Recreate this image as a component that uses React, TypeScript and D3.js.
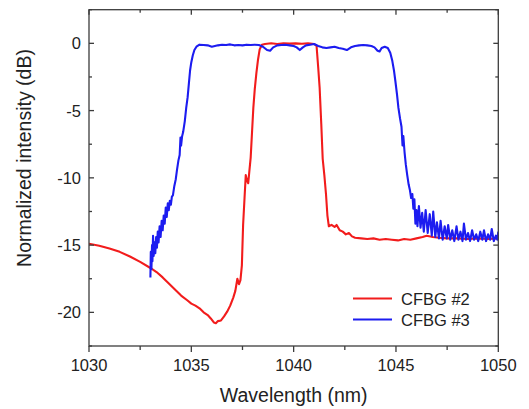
import React from "react";
import * as d3 from "d3";

const redWl = [1030.0,1030.5,1031.0,1031.5,1032.0,1032.5,1033.0,1033.3,1033.6,1033.9,1034.2,1034.5,1034.8,1035.0,1035.2,1035.4,1035.6,1035.8,1035.95,1036.1,1036.2,1036.3,1036.45,1036.6,1036.75,1036.9,1037.05,1037.15,1037.25,1037.33,1037.4,1037.47,1037.53,1037.6,1037.66,1037.72,1037.78,1037.83,1037.9,1037.97,1038.03,1038.1,1038.18,1038.26,1038.34,1038.45,1038.6,1038.9,1039.2,1039.5,1039.8,1040.1,1040.4,1040.7,1041.0,1041.12,1041.2,1041.27,1041.35,1041.42,1041.5,1041.58,1041.65,1041.72,1041.85,1042.0,1042.1,1042.25,1042.4,1042.55,1042.7,1042.85,1043.0,1043.3,1043.6,1043.9,1044.2,1044.5,1044.8,1045.1,1045.4,1045.7,1046.0,1046.3,1046.5,1046.8,1047.1,1047.5,1048.0,1048.5,1049.0,1049.5,1050.0];
const redDb = [-14.9,-15.05,-15.25,-15.5,-15.85,-16.25,-16.7,-17.0,-17.4,-17.85,-18.3,-18.75,-19.1,-19.35,-19.5,-19.7,-20.0,-20.2,-20.45,-20.75,-20.8,-20.65,-20.6,-20.3,-19.95,-19.5,-18.9,-18.4,-17.5,-17.9,-17.6,-16.5,-13.5,-11.5,-9.8,-10.2,-10.4,-9.6,-8.5,-6.5,-4.8,-3.4,-2.2,-1.2,-0.45,-0.1,-0.05,0.0,-0.05,0.0,-0.02,0.0,-0.03,0.0,-0.05,-0.2,-1.8,-3.3,-6.0,-8.6,-9.8,-11.2,-12.8,-13.6,-13.5,-13.65,-13.5,-13.9,-14.0,-14.2,-14.1,-14.35,-14.45,-14.5,-14.55,-14.5,-14.6,-14.55,-14.6,-14.65,-14.55,-14.6,-14.5,-14.4,-14.3,-14.4,-14.45,-14.5,-14.5,-14.55,-14.5,-14.55,-14.5];

const blueWl = [1033.0,1033.02,1033.05,1033.08,1033.1,1033.13,1033.16,1033.2,1033.24,1033.28,1033.32,1033.36,1033.4,1033.45,1033.5,1033.55,1033.6,1033.65,1033.7,1033.75,1033.8,1033.85,1033.9,1033.95,1034.0,1034.05,1034.1,1034.17,1034.24,1034.3,1034.37,1034.43,1034.47,1034.5,1034.55,1034.6,1034.68,1034.75,1034.82,1034.88,1034.94,1035.0,1035.07,1035.15,1035.25,1035.4,1035.6,1035.8,1036.0,1036.15,1036.3,1036.5,1036.7,1036.9,1037.1,1037.3,1037.5,1037.7,1037.9,1038.1,1038.3,1038.5,1038.7,1038.85,1039.0,1039.2,1039.4,1039.6,1039.8,1040.0,1040.15,1040.3,1040.45,1040.6,1040.8,1041.0,1041.2,1041.4,1041.6,1041.8,1042.0,1042.2,1042.4,1042.6,1042.8,1043.0,1043.2,1043.4,1043.6,1043.8,1043.95,1044.1,1044.2,1044.3,1044.45,1044.6,1044.72,1044.82,1044.9,1044.97,1045.05,1045.12,1045.2,1045.27,1045.32,1045.36,1045.42,1045.48,1045.55,1045.62,1045.68,1045.74,1045.8,1045.85,1045.9,1045.95,1046.0,1046.05,1046.12,1046.2,1046.28,1046.36,1046.45,1046.55,1046.65,1046.75,1046.82,1046.92,1047.0,1047.1,1047.18,1047.28,1047.38,1047.48,1047.55,1047.65,1047.75,1047.85,1047.96,1048.05,1048.15,1048.25,1048.32,1048.42,1048.52,1048.62,1048.72,1048.82,1048.92,1049.02,1049.12,1049.22,1049.3,1049.4,1049.5,1049.6,1049.68,1049.78,1049.88,1049.95,1050.0];
const blueDb = [-17.4,-15.5,-16.8,-15.0,-16.2,-14.3,-15.8,-14.8,-15.6,-14.4,-15.2,-14.0,-14.8,-13.6,-14.4,-13.2,-13.9,-12.8,-13.4,-12.2,-12.9,-11.9,-12.4,-11.7,-12.0,-11.4,-11.3,-10.6,-10.1,-9.4,-8.7,-8.3,-7.0,-7.6,-6.9,-6.6,-5.8,-4.8,-4.0,-3.0,-2.0,-1.4,-0.9,-0.5,-0.25,-0.1,-0.12,-0.15,-0.25,-0.2,-0.15,-0.1,-0.12,-0.08,-0.15,-0.12,-0.15,-0.1,-0.12,-0.1,-0.12,-0.25,-0.5,-0.55,-0.3,-0.15,-0.12,-0.1,-0.15,-0.2,-0.3,-0.5,-0.3,-0.15,-0.1,-0.05,-0.2,-0.3,-0.35,-0.3,-0.25,-0.35,-0.4,-0.5,-0.3,-0.2,-0.15,-0.12,-0.15,-0.2,-0.3,-0.55,-0.6,-0.35,-0.25,-0.35,-0.7,-1.3,-2.0,-2.8,-3.8,-4.8,-5.6,-6.2,-7.6,-6.9,-8.1,-9.0,-9.8,-10.5,-10.9,-11.5,-11.2,-12.3,-11.6,-13.4,-12.4,-13.6,-12.1,-13.7,-12.6,-14.0,-12.4,-14.1,-12.7,-14.3,-12.5,-14.4,-13.3,-14.5,-13.2,-14.6,-13.6,-14.5,-13.5,-14.6,-13.9,-14.7,-13.6,-14.6,-14.0,-14.7,-13.4,-14.6,-14.1,-14.7,-13.9,-14.6,-14.2,-14.7,-14.0,-14.6,-13.9,-14.7,-14.2,-14.6,-13.8,-14.7,-14.3,-14.6,-14.0];

const xMajor = [1030, 1035, 1040, 1045, 1050];
const xMinor = [1032.5, 1037.5, 1042.5, 1047.5];
const yMajor = [0, -5, -10, -15, -20];
const yMinor = [2.5, -2.5, -7.5, -12.5, -17.5, -22.5];

const series = [
  { name: "CFBG #2", wl: redWl, db: redDb, color: "#f21c1c" },
  { name: "CFBG #3", wl: blueWl, db: blueDb, color: "#1c1cf0" },
];

export default function App() {
  const L = 89, R = 498.3, T = 9.7, B = 346;
  const x = d3.scaleLinear().domain([1030, 1050]).range([L, R]);
  const y = d3.scaleLinear().domain([-22.5, 2.5]).range([B, T]);
  const line = d3.line<[number, number]>().x((d) => x(d[0])).y((d) => y(d[1]));
  const axisColor = "#3c3c3c";
  const font = "Liberation Sans, Arial, sans-serif";
  return (
    <svg width={529} height={409} style={{ position: "absolute", left: 0, top: 0, background: "#fff" }} fontFamily={font}>
      <defs>
        <clipPath id="plot">
          <rect x={L} y={T} width={R - L} height={B - T} />
        </clipPath>
      </defs>
      <g clipPath="url(#plot)">
        {series.map((s) => (
          <path key={s.name} d={line(s.wl.map((w, i) => [w, s.db[i]] as [number, number])) || ""} fill="none" stroke={s.color} strokeWidth={2.1} strokeLinejoin="round" />
        ))}
      </g>
      <rect x={L} y={T} width={R - L} height={B - T} fill="none" stroke={axisColor} strokeWidth={1.3} />
      {xMajor.map((v) => (
        <g key={"xM" + v}>
          <line x1={x(v)} x2={x(v)} y1={B} y2={B + 6} stroke={axisColor} strokeWidth={1.3} />
          <line x1={x(v)} x2={x(v)} y1={T} y2={T + 5} stroke={axisColor} strokeWidth={1.3} />
          <text x={x(v)} y={B + 25} fontSize={16.5} textAnchor="middle" fill="#222">{v}</text>
        </g>
      ))}
      {xMinor.map((v) => (
        <g key={"xm" + v}>
          <line x1={x(v)} x2={x(v)} y1={B} y2={B + 4} stroke={axisColor} strokeWidth={1.3} />
          <line x1={x(v)} x2={x(v)} y1={T} y2={T + 3} stroke={axisColor} strokeWidth={1.3} />
        </g>
      ))}
      {yMajor.map((v) => (
        <g key={"yM" + v}>
          <line x1={L} x2={L + 5} y1={y(v)} y2={y(v)} stroke={axisColor} strokeWidth={1.3} />
          <line x1={R} x2={R - 5} y1={y(v)} y2={y(v)} stroke={axisColor} strokeWidth={1.3} />
          <text x={L - 8} y={y(v) + 6} fontSize={16.5} textAnchor="end" fill="#222">{v}</text>
        </g>
      ))}
      {yMinor.map((v) => (
        <g key={"ym" + v}>
          <line x1={L} x2={L + 3} y1={y(v)} y2={y(v)} stroke={axisColor} strokeWidth={1.3} />
          <line x1={R} x2={R - 3} y1={y(v)} y2={y(v)} stroke={axisColor} strokeWidth={1.3} />
        </g>
      ))}
      <text x={(L + R) / 2} y={402} fontSize={19.5} textAnchor="middle" fill="#222">Wavelength (nm)</text>
      <text transform={`translate(31,158) rotate(-90)`} fontSize={19.5} textAnchor="middle" fill="#222">Normalized intensity (dB)</text>
      {series.map((s, i) => (
        <g key={"lg" + s.name}>
          <line x1={353} x2={392} y1={298.5 + i * 21} y2={298.5 + i * 21} stroke={s.color} strokeWidth={2.1} />
          <text x={401} y={304.5 + i * 21} fontSize={16.5} fill="#222">{s.name}</text>
        </g>
      ))}
    </svg>
  );
}
